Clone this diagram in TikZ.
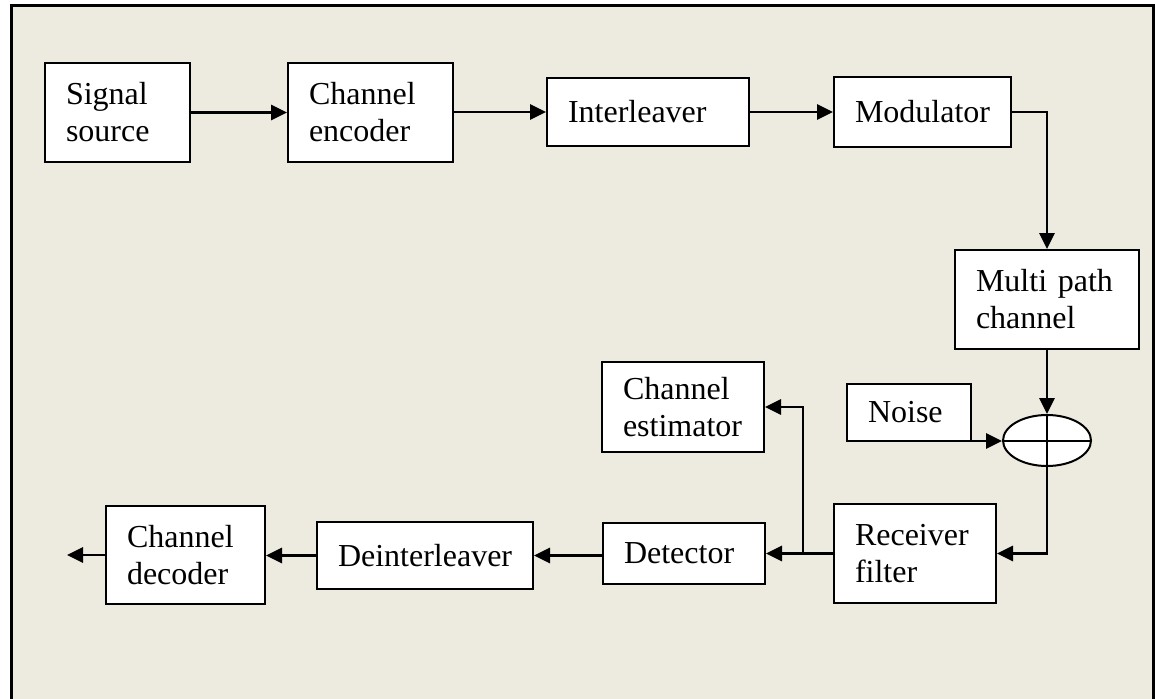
\documentclass[tikz,border=0pt]{standalone}
\usepackage{fontspec}
\setmainfont{Liberation Serif}
\usetikzlibrary{arrows.meta,shapes.geometric}
\definecolor{bgtan}{RGB}{237,234,224}
\tikzset{
  blk/.style={draw=black, line width=2pt, fill=white, rectangle, inner xsep=21pt, inner ysep=0pt,
    align=left, font=\fontsize{32}{37}\selectfont, anchor=center},
  conn/.style={line width=2.8pt, -{Triangle[length=16pt,width=15pt]}},
}
\newcommand{\blkbox}[6]{% name, x1, y1, x2, y2, text
  \pgfmathsetmacro{\cx}{(#2+#4)/2}\pgfmathsetmacro{\cy}{(#3+#5)/2}
  \pgfmathsetmacro{\tw}{#4-#2-42}\pgfmathsetmacro{\hh}{#5-#3}
  \node[blk, text width=\tw pt, minimum height=\hh pt] (#1) at (\cx,\cy) {#6};}
\begin{document}
\begin{tikzpicture}[x=1pt,y=-1pt]
\useasboundingbox (0,0) rectangle (1155,698);
\fill[white] (0,0) rectangle (1155,698);
\fill[bgtan] (11,6) rectangle (1154,700);
\draw[line width=3pt] (11,700) -- (11,6) -- (1153.5,6) -- (1153.5,700);
% blocks
\blkbox{src}{45}{63}{190}{162}{Signal\\source}
\blkbox{enc}{288}{63}{453}{162}{Channel\\encoder}
\blkbox{intl}{547}{78}{749}{146}{Interleaver}
\blkbox{mod}{834}{77}{1011}{147}{Modulator}
\blkbox{mpc}{955}{250}{1139}{349}{Multi path\\channel}
\blkbox{noise}{847}{384}{971}{441}{Noise}
\blkbox{est}{602}{362}{764}{452}{Channel\\estimator}
\blkbox{rf}{834}{504}{996}{603}{Receiver\\filter}
\blkbox{det}{603}{523}{765}{584}{Detector}
\blkbox{deint}{317}{522}{533}{589}{Deinterleaver}
\blkbox{dec}{106}{506}{265}{604}{Channel\\decoder}
% summing junction
\node[draw=black, line width=2pt, fill=white, ellipse, minimum width=88pt, minimum height=51pt, inner sep=0pt] (sum) at (1047,440.5) {};
\draw[line width=2pt] (sum.north) -- (sum.south) (sum.west) -- (sum.east);
% helper coordinates
\coordinate (nz) at (898,441);
\coordinate (br) at (803,553.5);
\coordinate (out) at (67,555);
% connectors
\draw[conn] (src.east) -- (src.east -| enc.west);
\draw[conn] (enc.east |- intl.east) -- (intl.west);
\draw[conn] (intl.east) -- (mod.west);
\draw[conn] (mod.east) -| (mpc.north);
\draw[conn] (mpc.south) -- (sum.north);
\draw[conn] (nz) -- (sum.west |- nz);
\draw[conn] (sum.south) |- (rf.east);
\draw[conn] (rf.west) -- (det.east);
\draw[conn] (br) |- (est.east);
\draw[conn] (det.west |- deint.east) -- (deint.east);
\draw[conn] (deint.west) -- (dec.east |- deint.west);
\draw[conn] (dec.west) -- (out);
\end{tikzpicture}
\end{document}
